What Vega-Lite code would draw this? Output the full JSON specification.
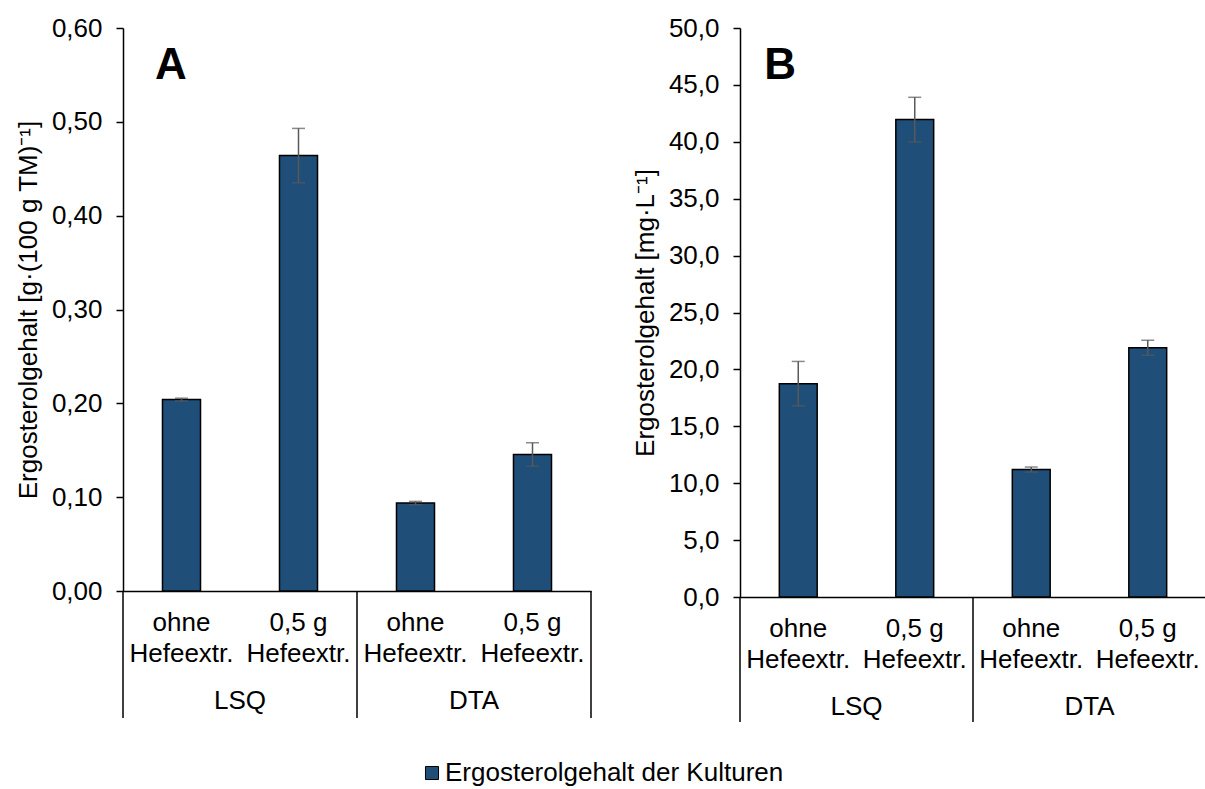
{
  "$schema": "https://vega.github.io/schema/vega-lite/v6.json",
  "padding": {"left": 15, "top": 15, "right": 0, "bottom": 0},
  "config": {
    "font": "Liberation Sans",
    "view": {"stroke": null},
    "axis": {
      "grid": false,
      "labelFont": "Liberation Sans",
      "labelFontSize": 26,
      "labelColor": "#000000",
      "titleFont": "Liberation Sans",
      "titleFontSize": 26,
      "titleFontWeight": "normal",
      "titleColor": "#000000",
      "domainColor": "#000000",
      "tickColor": "#000000",
      "domainWidth": 1.5,
      "tickWidth": 1.5
    }
  },
  "datasets": {
    "tafelA": [
      {"Probe": "LSQ ohne", "Kultur": "LSQ", "Zusatz": "ohne", "Beschriftung": "ohne\nHefeextr.", "Wert": 0.204, "SD": 0.0015},
      {"Probe": "LSQ 0,5 g", "Kultur": "LSQ", "Zusatz": "0,5 g", "Beschriftung": "0,5 g\nHefeextr.", "Wert": 0.464, "SD": 0.029},
      {"Probe": "DTA ohne", "Kultur": "DTA", "Zusatz": "ohne", "Beschriftung": "ohne\nHefeextr.", "Wert": 0.0937, "SD": 0.0018},
      {"Probe": "DTA 0,5 g", "Kultur": "DTA", "Zusatz": "0,5 g", "Beschriftung": "0,5 g\nHefeextr.", "Wert": 0.1455, "SD": 0.0125}
    ],
    "tafelB": [
      {"Probe": "LSQ ohne", "Kultur": "LSQ", "Zusatz": "ohne", "Beschriftung": "ohne\nHefeextr.", "Wert": 18.75, "SD": 1.95},
      {"Probe": "LSQ 0,5 g", "Kultur": "LSQ", "Zusatz": "0,5 g", "Beschriftung": "0,5 g\nHefeextr.", "Wert": 41.95, "SD": 1.96},
      {"Probe": "DTA ohne", "Kultur": "DTA", "Zusatz": "ohne", "Beschriftung": "ohne\nHefeextr.", "Wert": 11.2, "SD": 0.22},
      {"Probe": "DTA 0,5 g", "Kultur": "DTA", "Zusatz": "0,5 g", "Beschriftung": "0,5 g\nHefeextr.", "Wert": 21.9, "SD": 0.66}
    ]
  },
  "spacing": 40,
  "hconcat": [
    {
      "spacing": 0,
      "bounds": "flush",
      "vconcat": [
        {
          "width": 468,
          "height": 563,
          "layer": [
            {
              "data": {"name": "tafelA"},
              "mark": {"type": "bar", "stroke": "#000000", "strokeWidth": 1.5},
              "encoding": {
                "x": {
                  "field": "Probe", "type": "nominal",
                  "scale": {"domain": ["LSQ ohne", "LSQ 0,5 g", "DTA ohne", "DTA 0,5 g"], "paddingInner": 0.675, "paddingOuter": 0.3375},
                  "axis": {"labels": false, "ticks": false, "title": null}
                },
                "y": {
                  "field": "Wert", "type": "quantitative",
                  "scale": {"domain": [0, 0.6], "nice": false},
                  "title": "Ergosterolgehalt [g·(100 g TM)⁻¹]",
                  "axis": {
                    "values": [0, 0.1, 0.2, 0.3, 0.4, 0.5, 0.6],
                    "labelExpr": "replace(format(datum.value, '.2f'), '.', ',')",
                    "tickSize": 7, "labelPadding": 14, "titlePadding": 10
                  }
                },
                "color": {
                  "datum": "Ergosterolgehalt der Kulturen", "type": "nominal",
                  "scale": {"range": ["#1F4E79"]},
                  "legend": {
                    "orient": "none", "legendX": 296, "legendY": 732, "title": null,
                    "symbolType": "square", "symbolSize": 170,
                    "symbolStrokeColor": "#000000", "symbolStrokeWidth": 1,
                    "labelFont": "Liberation Sans", "labelFontSize": 26, "labelColor": "#000000",
                    "labelOffset": 0, "labelLimit": 600
                  }
                }
              }
            },
            {
              "data": {"name": "tafelA"},
              "mark": {"type": "errorbar", "ticks": true, "color": "#595959", "thickness": 1.5, "size": 13},
              "encoding": {
                "x": {"field": "Probe", "type": "nominal"},
                "y": {"field": "Wert", "type": "quantitative", "title": "Ergosterolgehalt [g·(100 g TM)⁻¹]"},
                "yError": {"field": "SD"}
              }
            },
            {
              "data": {"values": [{"Tafel": "A"}]},
              "mark": {"type": "text", "fontSize": 44, "fontWeight": "bold", "color": "#000000", "align": "left", "baseline": "middle", "dx": -26.5},
              "encoding": {
                "x": {"datum": "LSQ ohne"},
                "y": {"datum": 0.56},
                "text": {"field": "Tafel"}
              }
            }
          ]
        },
        {
          "data": {"name": "tafelA"},
          "width": 468,
          "height": 127,
          "encoding": {
            "x": {
              "field": "Probe", "type": "nominal",
              "scale": {"domain": ["LSQ ohne", "LSQ 0,5 g", "DTA ohne", "DTA 0,5 g"], "paddingInner": 0, "paddingOuter": 0},
              "axis": null
            }
          },
          "layer": [
            {
              "mark": {"type": "text", "lineBreak": "\n", "lineHeight": 31, "fontSize": 26, "color": "#000000", "baseline": "middle", "dy": -31.5},
              "encoding": {"text": {"field": "Beschriftung"}}
            },
            {
              "transform": [{"filter": "datum.Zusatz == '0,5 g'"}],
              "mark": {"type": "text", "fontSize": 26, "color": "#000000", "baseline": "middle", "dy": 46},
              "encoding": {"x": {"field": "Probe", "type": "nominal", "bandPosition": 0}, "text": {"field": "Kultur"}}
            },
            {
              "transform": [{"filter": "datum.Zusatz == 'ohne'"}],
              "mark": {"type": "rule", "color": "#000000", "strokeWidth": 1.5},
              "encoding": {"x": {"field": "Probe", "type": "nominal", "bandPosition": 0}}
            },
            {
              "transform": [{"filter": "datum.Kultur == 'DTA' && datum.Zusatz == '0,5 g'"}],
              "mark": {"type": "rule", "color": "#000000", "strokeWidth": 1.5},
              "encoding": {"x": {"field": "Probe", "type": "nominal", "bandPosition": 1}}
            }
          ]
        }
      ]
    },
    {
      "spacing": 0,
      "bounds": "flush",
      "vconcat": [
        {
          "width": 466,
          "height": 569,
          "layer": [
            {
              "data": {"name": "tafelB"},
              "mark": {"type": "bar", "stroke": "#000000", "strokeWidth": 1.5},
              "encoding": {
                "x": {
                  "field": "Probe", "type": "nominal",
                  "scale": {"domain": ["LSQ ohne", "LSQ 0,5 g", "DTA ohne", "DTA 0,5 g"], "paddingInner": 0.675, "paddingOuter": 0.3375},
                  "axis": {"labels": false, "ticks": false, "title": null}
                },
                "y": {
                  "field": "Wert", "type": "quantitative",
                  "scale": {"domain": [0, 50], "nice": false},
                  "title": "Ergosterolgehalt [mg·L⁻¹]",
                  "axis": {
                    "values": [0, 5, 10, 15, 20, 25, 30, 35, 40, 45, 50],
                    "labelExpr": "replace(format(datum.value, '.1f'), '.', ',')",
                    "tickSize": 7, "labelPadding": 14, "titlePadding": 10
                  }
                },
                "color": {"datum": "Ergosterolgehalt der Kulturen", "type": "nominal"}
              }
            },
            {
              "data": {"name": "tafelB"},
              "mark": {"type": "errorbar", "ticks": true, "color": "#595959", "thickness": 1.5, "size": 13},
              "encoding": {
                "x": {"field": "Probe", "type": "nominal"},
                "y": {"field": "Wert", "type": "quantitative", "title": "Ergosterolgehalt [mg·L⁻¹]"},
                "yError": {"field": "SD"}
              }
            },
            {
              "data": {"values": [{"Tafel": "B"}]},
              "mark": {"type": "text", "fontSize": 44, "fontWeight": "bold", "color": "#000000", "align": "left", "baseline": "middle", "dx": -34},
              "encoding": {
                "x": {"datum": "LSQ ohne"},
                "y": {"datum": 46.67},
                "text": {"field": "Tafel"}
              }
            }
          ]
        },
        {
          "data": {"name": "tafelB"},
          "width": 466,
          "height": 125,
          "encoding": {
            "x": {
              "field": "Probe", "type": "nominal",
              "scale": {"domain": ["LSQ ohne", "LSQ 0,5 g", "DTA ohne", "DTA 0,5 g"], "paddingInner": 0, "paddingOuter": 0},
              "axis": null
            }
          },
          "layer": [
            {
              "mark": {"type": "text", "lineBreak": "\n", "lineHeight": 31, "fontSize": 26, "color": "#000000", "baseline": "middle", "dy": -31},
              "encoding": {"text": {"field": "Beschriftung"}}
            },
            {
              "transform": [{"filter": "datum.Zusatz == '0,5 g'"}],
              "mark": {"type": "text", "fontSize": 26, "color": "#000000", "baseline": "middle", "dy": 47.5},
              "encoding": {"x": {"field": "Probe", "type": "nominal", "bandPosition": 0}, "text": {"field": "Kultur"}}
            },
            {
              "transform": [{"filter": "datum.Zusatz == 'ohne'"}],
              "mark": {"type": "rule", "color": "#000000", "strokeWidth": 1.5},
              "encoding": {"x": {"field": "Probe", "type": "nominal", "bandPosition": 0}}
            },
            {
              "transform": [{"filter": "datum.Kultur == 'DTA' && datum.Zusatz == '0,5 g'"}],
              "mark": {"type": "rule", "color": "#000000", "strokeWidth": 1.5},
              "encoding": {"x": {"field": "Probe", "type": "nominal", "bandPosition": 1}}
            }
          ]
        }
      ]
    }
  ]
}
